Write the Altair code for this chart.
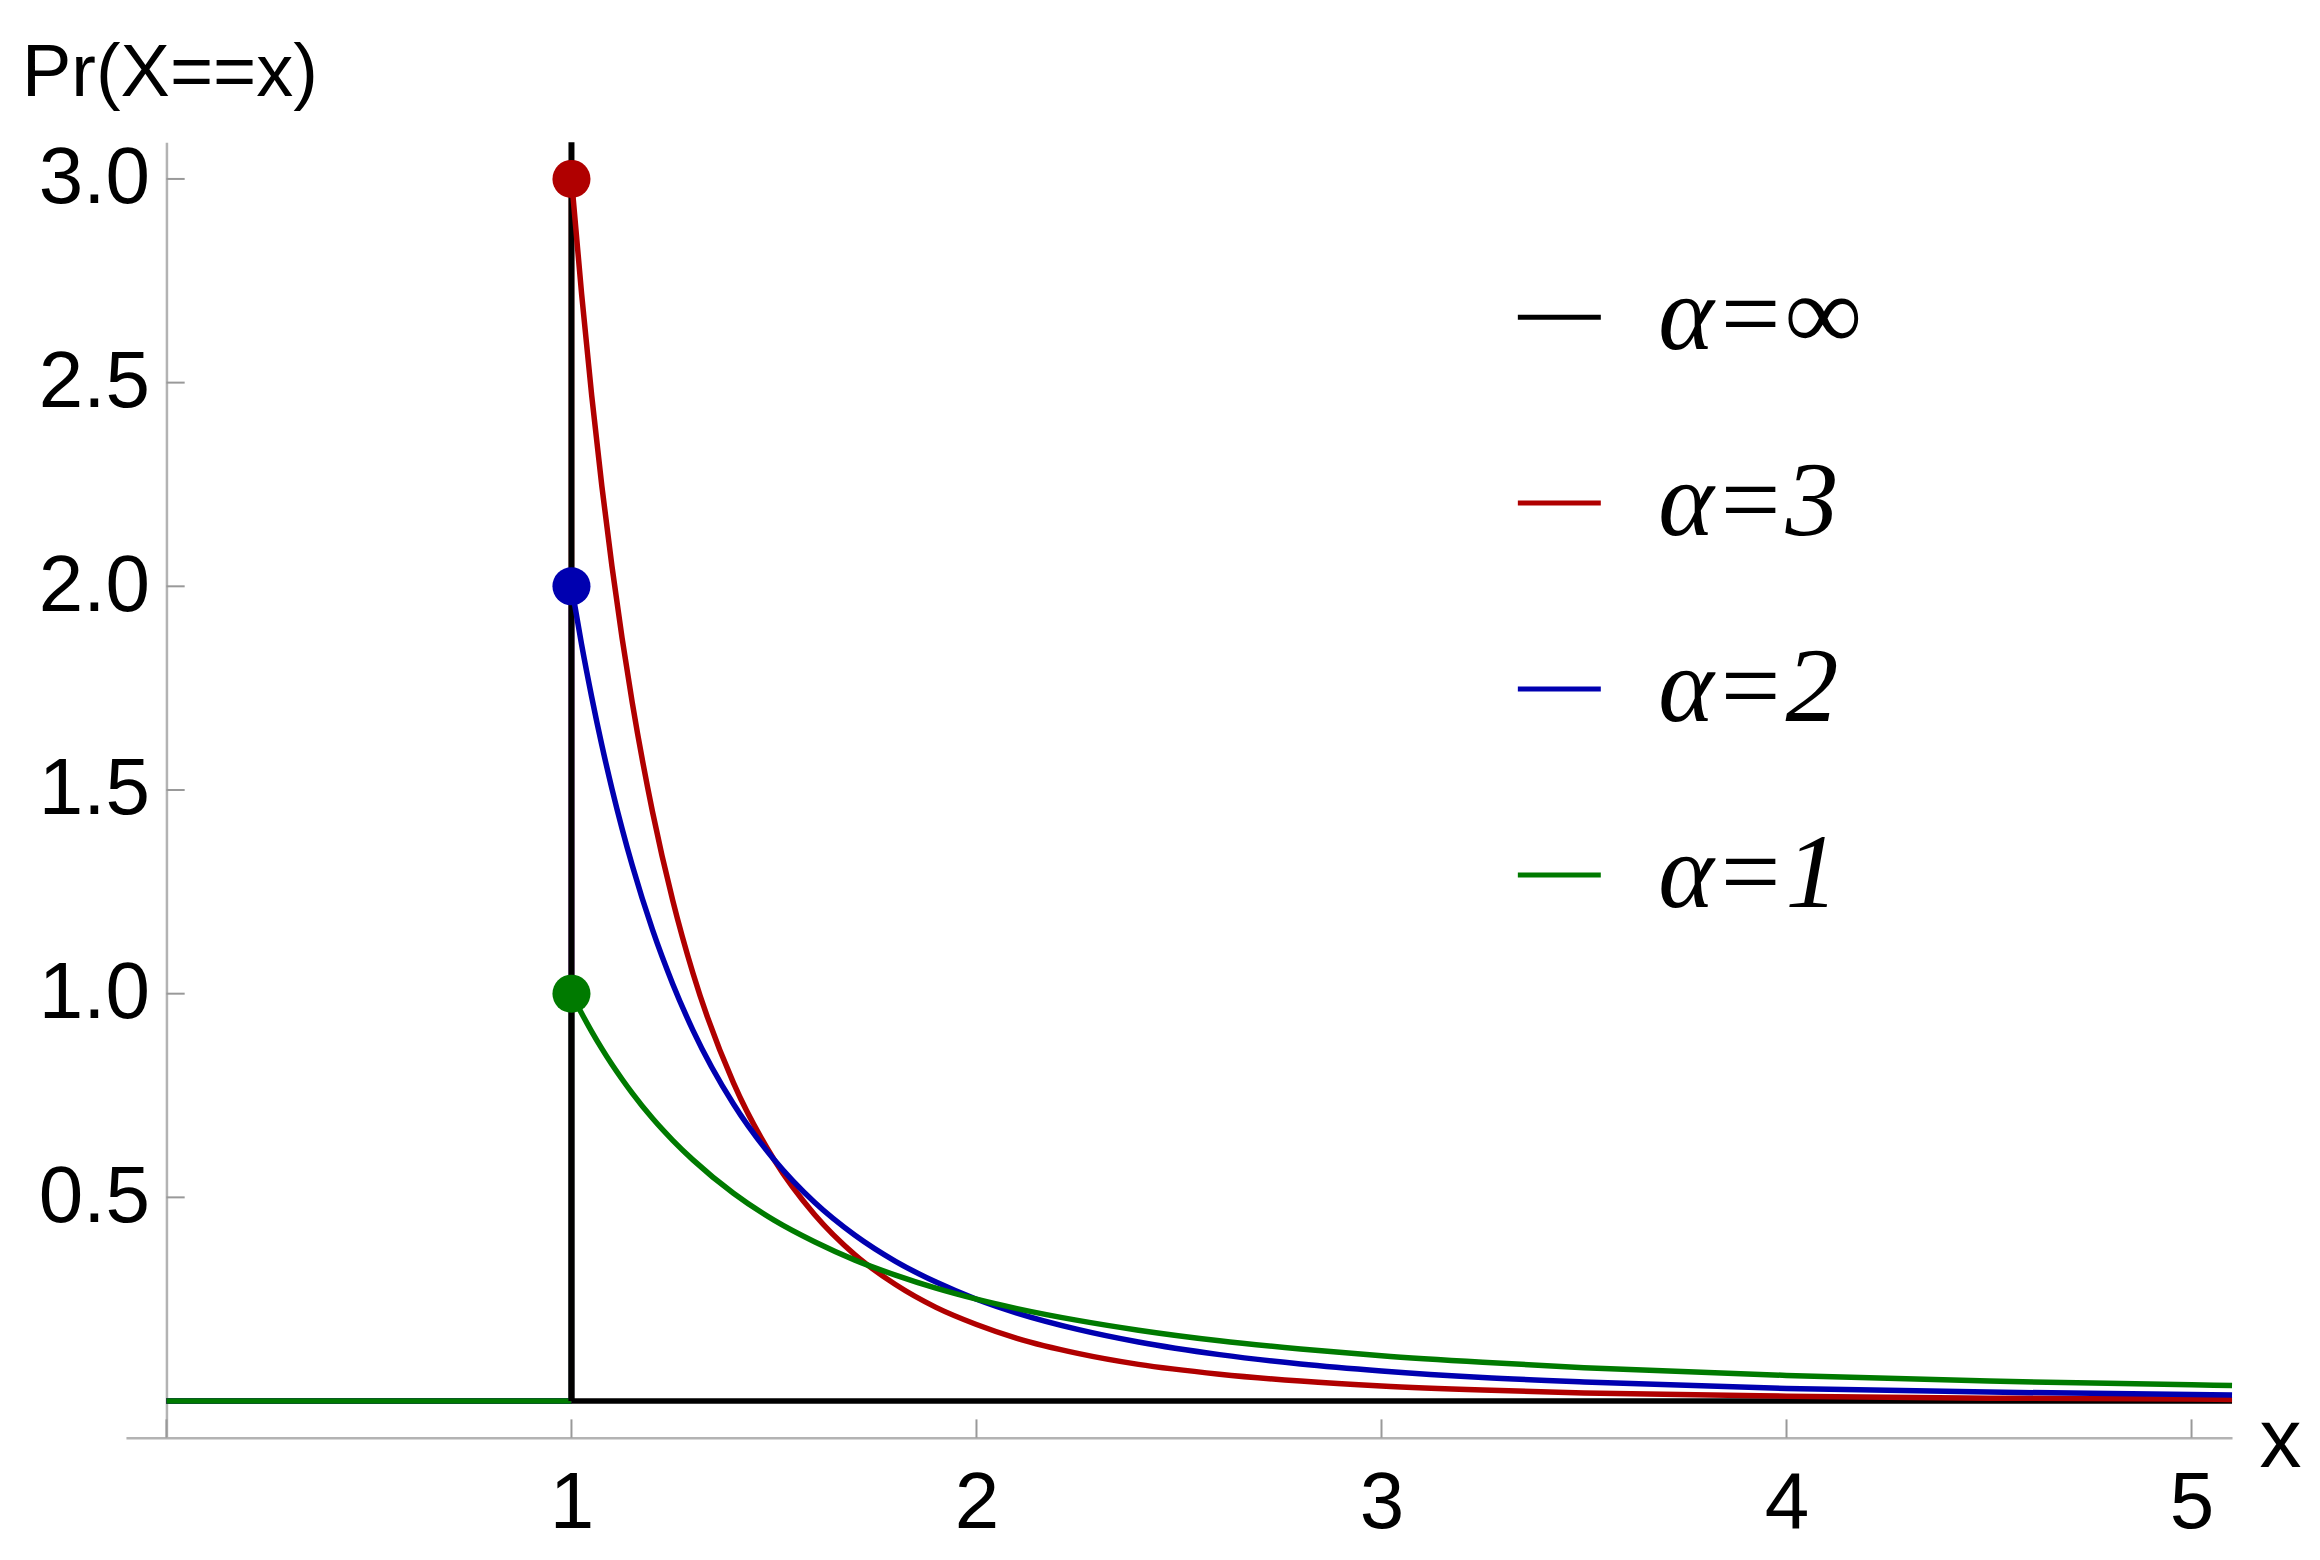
import altair as alt
import pandas as pd

# series shown in the legend (top to bottom) and their colours
series_labels = ["α=∞", "α=3", "α=2", "α=1"]
series_colors = ["#000000", "#B00000", "#0000B0", "#007A00"]
alphas = [None, 3, 2, 1]

# sample points (x >= 1)
x_vals = [1.0, 1.025, 1.05, 1.075, 1.1, 1.125, 1.15, 1.2, 1.25, 1.3, 1.4, 1.5,
          1.6, 1.7, 1.8, 1.9, 2.0, 2.1, 2.25, 2.4, 2.6, 2.8, 3.0, 3.25, 3.5,
          4.0, 4.5, 5.0, 5.1]
alpha1 = [1.0, 0.952, 0.907, 0.865, 0.826, 0.790, 0.756, 0.694, 0.640, 0.592,
          0.510, 0.444, 0.391, 0.346, 0.309, 0.277, 0.250, 0.227, 0.198, 0.174,
          0.148, 0.128, 0.111, 0.095, 0.082, 0.063, 0.049, 0.040, 0.038]
alpha2 = [2.0, 1.857, 1.728, 1.610, 1.503, 1.405, 1.315, 1.157, 1.024, 0.910,
          0.729, 0.593, 0.488, 0.407, 0.343, 0.292, 0.250, 0.216, 0.176, 0.145,
          0.114, 0.091, 0.074, 0.058, 0.047, 0.031, 0.022, 0.016, 0.015]
alpha3 = [3.0, 2.718, 2.468, 2.246, 2.049, 1.873, 1.715, 1.447, 1.229, 1.050,
          0.781, 0.593, 0.458, 0.359, 0.286, 0.230, 0.188, 0.154, 0.117, 0.090,
          0.066, 0.049, 0.037, 0.027, 0.020, 0.012, 0.007, 0.005, 0.004]
# alpha = infinity: spike at x=1, zero elsewhere
inf_x = [1.0, 5.1]
inf_y = [0.0, 0.0]

x_ticks = [1, 2, 3, 4, 5]
y_ticks = [0.5, 1.0, 1.5, 2.0, 2.5, 3.0]
x_domain = [-0.1, 5.1]
y_domain = [-0.09, 3.09]

FONT = "Liberation Sans"
AXIS_GRAY = "#B3B3B3"
LW = 5.5

# curve table
rows = []
for xv, yv in zip(inf_x, inf_y):
    rows.append({"x": xv, "y": yv, "series": series_labels[0]})
for lab, ys in zip(series_labels[1:], [alpha3, alpha2, alpha1]):
    for xv, yv in zip(x_vals, ys):
        rows.append({"x": xv, "y": yv, "series": lab})
curves = pd.DataFrame(rows)

color_scale = alt.Scale(domain=series_labels, range=series_colors)
x_scale = alt.Scale(domain=x_domain, nice=False, zero=False)
y_scale = alt.Scale(domain=y_domain, nice=False, zero=False)

x_axis = alt.Axis(values=x_ticks, format="d", ticks=False, grid=False,
                  domainColor=AXIS_GRAY, domainWidth=2.5, labelFont=FONT,
                  labelFontSize=80, labelColor="black",
                  labelBaseline="alphabetic", labelPadding=90,
                  title="x", titleFont=FONT, titleFontSize=84,
                  titleFontWeight="normal", titleX=2155, titleY=29,
                  titleAlign="center", titleBaseline="alphabetic")
y_axis = alt.Axis(values=y_ticks, format=".1f", ticks=False, grid=False,
                  offset=-40.5, domainColor=AXIS_GRAY, domainWidth=2.5,
                  labelFont=FONT, labelFontSize=80, labelColor="black",
                  labelPadding=17, title="Pr(X==x)", titleFont=FONT,
                  titleFontSize=74, titleFontWeight="normal", titleAngle=0,
                  titleX=-145, titleY=-47, titleAlign="left",
                  titleBaseline="alphabetic")

# zero segment left of x=1 for every series (green ends on top)
left = pd.DataFrame({"x": [0.0] * 4, "x2": [1.0] * 4, "y": [0.0] * 4,
                     "c": series_colors})
left_layer = alt.Chart(left).mark_rule(strokeWidth=LW).encode(
    x=alt.X("x:Q", scale=x_scale, axis=x_axis),
    x2="x2:Q",
    y=alt.Y("y:Q", scale=y_scale, axis=y_axis),
    color=alt.Color("c:N", scale=None),
)

# vertical jumps at x=1
jumps = pd.DataFrame({"x": [1.0] * 3, "y": [0.0] * 3, "y2": alphas[1:],
                      "c": series_colors[1:]})
jump_layer = alt.Chart(jumps).mark_rule(strokeWidth=LW).encode(
    x="x:Q", y="y:Q", y2="y2:Q", color=alt.Color("c:N", scale=None)
)
spike = pd.DataFrame({"x": [1.0], "y": [0.0], "y2": [y_domain[1]]})
spike_layer = alt.Chart(spike).mark_rule(strokeWidth=6, color="black").encode(
    x="x:Q", y="y:Q", y2="y2:Q"
)

curve_layer = alt.Chart(curves).mark_line(strokeWidth=LW, interpolate="monotone").encode(
    x="x:Q",
    y="y:Q",
    color=alt.Color("series:N", scale=color_scale, sort=series_labels,
                    legend=alt.Legend(title=None, orient="none", legendX=1381,
                                      legendY=122, symbolType="stroke",
                                      symbolSize=6889, symbolStrokeWidth=5,
                                      labelFont="Liberation Serif",
                                      labelFontStyle="italic",
                                      labelFontSize=106, labelColor="black",
                                      labelOffset=46, labelLimit=600,
                                      rowPadding=80, padding=0)),
)

dots = pd.DataFrame({"x": [1.0] * 3, "y": alphas[1:], "c": series_colors[1:]})
dot_layer = alt.Chart(dots).mark_circle(size=1450, opacity=1).encode(
    x="x:Q", y="y:Q", color=alt.Color("c:N", scale=None)
)

# inward tick marks
xt = pd.DataFrame({"x": [0] + x_ticks, "y": [y_domain[0]] * 6,
                   "y2": [y_domain[0] + 0.045] * 6})
xtick_layer = alt.Chart(xt).mark_rule(strokeWidth=2, color="#999999").encode(
    x="x:Q", y="y:Q", y2="y2:Q"
)
yt = pd.DataFrame({"y": y_ticks, "x": [0.0] * 6, "x2": [0.045] * 6})
ytick_layer = alt.Chart(yt).mark_rule(strokeWidth=2, color="#999999").encode(
    y="y:Q", x="x:Q", x2="x2:Q"
)

chart = alt.layer(
    left_layer, jump_layer, spike_layer, curve_layer, dot_layer,
    xtick_layer, ytick_layer
).properties(
    width=2107, height=1296,
    autosize=alt.AutoSizeParams(type="none"),
    padding={"left": 118, "top": 134, "right": 80, "bottom": 114},
    background="white",
).configure_view(stroke=None)

chart.save("out.html", embed_options={"renderer": "svg", "actions": False})
